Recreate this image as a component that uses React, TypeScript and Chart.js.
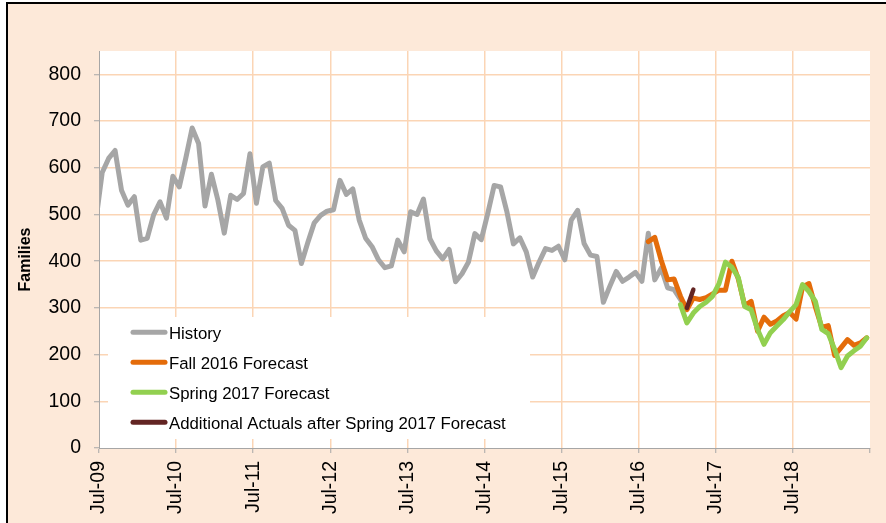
import React, { useEffect, useRef } from 'react';
import { Chart, registerables } from 'chart.js';

Chart.register(...registerables);

// ---------- data ----------
const MONTH_NAMES = ['Jan', 'Feb', 'Mar', 'Apr', 'May', 'Jun', 'Jul', 'Aug', 'Sep', 'Oct', 'Nov', 'Dec'];
// monthly categories, Jun-09 .. Jun-19 (Jun-09 lies just left of the visible axis)
const months: string[] = [];
for (let k = 0; k < 121; k++) {
  const m = (5 + k) % 12;
  const y = 2009 + Math.floor((5 + k) / 12);
  months.push(`${MONTH_NAMES[m]}-${String(y % 100).padStart(2, '0')}`);
}
const firstVisibleMonth = 'Jul-09';

const yearTickLabels = ['Jul-09', 'Jul-10', 'Jul-11', 'Jul-12', 'Jul-13', 'Jul-14', 'Jul-15', 'Jul-16', 'Jul-17', 'Jul-18'];

const historyStart = 'Jun-09';
const historyValues = [
  485,
  590, 620, 637, 552, 520, 538, 445, 449, 499, 527, 492, 582,
  559, 620, 685, 652, 518, 586, 531, 460, 541, 532, 545, 630,
  524, 602, 610, 530, 513, 477, 466, 395, 440, 482, 498, 507,
  510, 573, 543, 555, 488, 449, 431, 403, 386, 390, 445, 420,
  506, 500, 533, 448, 422, 405, 425, 356, 373, 398, 459, 446,
  502, 562, 559, 505, 437, 450, 420, 366, 398, 427, 423, 432,
  403, 488, 509, 438, 413, 410, 312, 346, 378, 357, 366, 376,
  357, 460, 360, 385, 343, 339, 318, 300,
];

const fall2016Start = 'Aug-16';
const fall2016Values = [
  442, 451, 402, 360, 362, 325, 296, 321, 318, 322, 330,
  338, 338, 400, 362, 305, 314, 250, 280, 265, 272, 283, 290,
  276, 345, 352, 302, 258, 262, 198, 215, 232, 220, 225, 236,
];

const spring2017Start = 'Jan-17';
const spring2017Values = [
  307, 268, 289, 303, 312, 325,
  352, 398, 387, 365, 303, 296, 254, 222, 247, 261, 275, 292,
  307, 350, 335, 314, 254, 245, 211, 172, 197, 208, 218, 236,
];

const additionalStart = 'Feb-17';
const additionalValues = [300, 339];

const seriesLabels = ['History', 'Fall 2016 Forecast', 'Spring 2017 Forecast', 'Additional Actuals after Spring 2017 Forecast'];
const seriesColors = ['#A6A6A6', '#E46C0A', '#92D050', '#632523'];

const yMax = 850;
const yLabelMax = 800;
const yStep = 100;

// ---------- styling ----------
const FONT = '"Liberation Sans", Arial, Helvetica, sans-serif';
const PAGE_BG = '#FDE9D9';
const GRID = '#FBD5B5';
const AXIS = '#A6A6A6';
const TRANSPARENT = 'rgba(0,0,0,0)';

const monthPos = (label: string) => months.indexOf(label) - months.indexOf(firstVisibleMonth) + 0.5;
const toPoints = (start: string, values: number[]) => {
  const s = months.indexOf(start);
  return values.map((v, j) => ({ x: monthPos(months[s + j]), y: v }));
};
const visibleMonthCount = months.length - months.indexOf(firstVisibleMonth);

const backdropPlugin = {
  id: 'backdrop',
  beforeDraw(chart: any) {
    const { ctx, width, height, chartArea: a } = chart;
    ctx.save();
    ctx.fillStyle = '#FFFFFF';
    ctx.fillRect(0, 0, width, height);
    ctx.fillStyle = PAGE_BG;
    ctx.fillRect(7, 3, width - 7, height - 3);
    ctx.strokeStyle = '#000000';
    ctx.lineWidth = 2;
    ctx.beginPath();
    ctx.moveTo(7, height);
    ctx.lineTo(7, 3);
    ctx.lineTo(width, 3);
    ctx.stroke();
    ctx.fillStyle = '#FFFFFF';
    ctx.fillRect(a.left, a.top, a.right - a.left, a.bottom - a.top);
    ctx.restore();
  },
};

const insideLegendPlugin = {
  id: 'insideLegend',
  afterDatasetsDraw(chart: any) {
    const { ctx, chartArea: a } = chart;
    ctx.save();
    ctx.fillStyle = '#FFFFFF';
    ctx.fillRect(a.left + 9, 317, 422, 122);
    ctx.font = `16.8px ${FONT}`;
    ctx.textAlign = 'left';
    ctx.textBaseline = 'alphabetic';
    chart.data.datasets.forEach((ds: any, i: number) => {
      const cy = 332.3 + i * 30;
      ctx.strokeStyle = ds.borderColor;
      ctx.lineWidth = 5;
      ctx.lineCap = 'round';
      ctx.beginPath();
      ctx.moveTo(a.left + 34, cy);
      ctx.lineTo(a.left + 66, cy);
      ctx.stroke();
      ctx.fillStyle = '#000000';
      ctx.fillText(ds.label, a.left + 70, cy + 7);
    });
    ctx.restore();
  },
};

const yTitlePlugin = {
  id: 'yTitle',
  afterDraw(chart: any) {
    const { ctx, chartArea: a } = chart;
    ctx.save();
    ctx.translate(30, (a.top + a.bottom) / 2 + 10);
    ctx.rotate(-Math.PI / 2);
    ctx.font = `bold 16px ${FONT}`;
    ctx.fillStyle = '#000000';
    ctx.textAlign = 'center';
    ctx.textBaseline = 'alphabetic';
    ctx.fillText('Families', 0, 0);
    ctx.restore();
  },
};

export default function App() {
  const canvasRef = useRef<HTMLCanvasElement | null>(null);

  useEffect(() => {
    if (!canvasRef.current) return;
    const clip = { left: 0, top: 6, right: 6, bottom: 6 };
    const common = {
      pointRadius: 0,
      pointHoverRadius: 0,
      tension: 0,
      borderJoinStyle: 'round' as const,
      borderCapStyle: 'round' as const,
      clip,
      fill: false,
    };
    const chart = new Chart(canvasRef.current, {
      type: 'line',
      data: {
        datasets: [
          { ...common, label: seriesLabels[0], data: toPoints(historyStart, historyValues), borderColor: seriesColors[0], backgroundColor: seriesColors[0], borderWidth: 5, order: 3 },
          { ...common, label: seriesLabels[1], data: toPoints(fall2016Start, fall2016Values), borderColor: seriesColors[1], backgroundColor: seriesColors[1], borderWidth: 5, order: 2 },
          { ...common, label: seriesLabels[2], data: toPoints(spring2017Start, spring2017Values), borderColor: seriesColors[2], backgroundColor: seriesColors[2], borderWidth: 5, order: 1 },
          { ...common, label: seriesLabels[3], data: toPoints(additionalStart, additionalValues), borderColor: seriesColors[3], backgroundColor: seriesColors[3], borderWidth: 4.5, order: 0 },
        ],
      },
      options: {
        animation: false,
        responsive: false,
        devicePixelRatio: 1,
        events: [],
        layout: { padding: { left: 0, right: 16, top: 51, bottom: 0 } },
        plugins: {
          legend: { display: false },
          tooltip: { enabled: false },
          title: { display: false },
        },
        scales: {
          x: {
            type: 'linear',
            min: 0,
            max: visibleMonthCount,
            afterFit: (s: any) => { s.height = 75; s.paddingLeft = 0; s.paddingRight = 0; },
            grid: {
              color: (ctx: any) => (ctx.tick && (ctx.tick.value === 0 || ctx.tick.value === visibleMonthCount) ? TRANSPARENT : GRID),
              lineWidth: 1.5,
              tickColor: AXIS,
              tickLength: 5,
              tickWidth: 1,
            },
            border: { color: AXIS, width: 1 },
            ticks: {
              stepSize: 12,
              maxTicksLimit: 30,
              autoSkip: false,
              minRotation: 90,
              maxRotation: 90,
              padding: 8,
              color: '#000000',
              font: { family: FONT, size: 19.5 },
              callback: (v: any) => {
                const n = Math.round(Number(v) / 12);
                return n < yearTickLabels.length ? yearTickLabels[n] : '';
              },
            },
          },
          y: {
            type: 'linear',
            min: 0,
            max: yMax,
            afterFit: (s: any) => { s.width = 99; s.paddingTop = 0; s.paddingBottom = 0; },
            afterBuildTicks: (s: any) => { s.ticks = s.ticks.filter((t: any) => t.value <= yLabelMax); },
            grid: {
              color: (ctx: any) => (ctx.tick && ctx.tick.value === 0 ? TRANSPARENT : GRID),
              lineWidth: 1.5,
              tickColor: AXIS,
              tickLength: 5,
              tickWidth: 1,
            },
            border: { color: AXIS, width: 1 },
            ticks: {
              stepSize: yStep,
              padding: 13,
              color: '#000000',
              font: { family: FONT, size: 19.5 },
            },
          },
        },
      },
      plugins: [backdropPlugin, insideLegendPlugin, yTitlePlugin],
    } as any);
    return () => chart.destroy();
  }, []);

  return (
    <div style={{ position: 'fixed', left: 0, top: 0, width: 886, height: 523, background: '#FFFFFF' }}>
      <canvas ref={canvasRef} width={886} height={523} style={{ display: 'block', width: 886, height: 523 }} />
    </div>
  );
}
